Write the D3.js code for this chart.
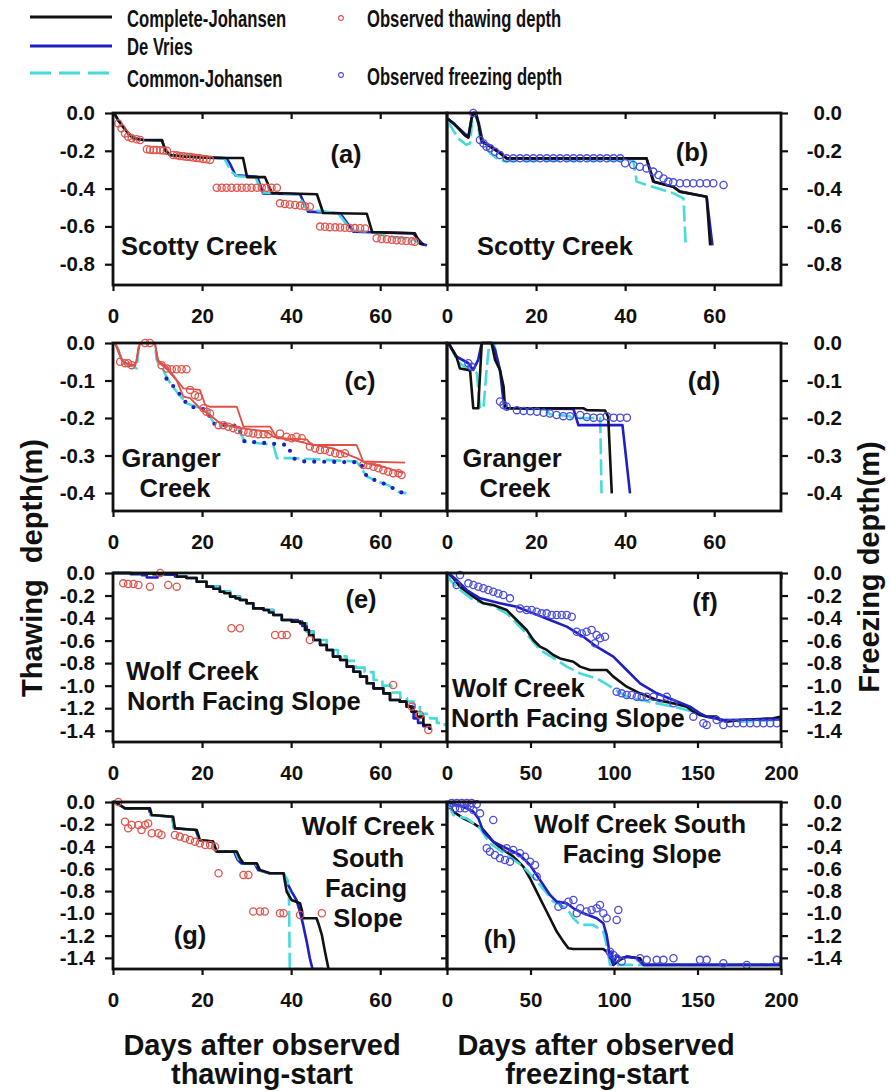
<!DOCTYPE html>
<html>
<head>
<meta charset="utf-8">
<script src="https://cdn.jsdelivr.net/npm/d3@7"></script>
<style>
  body { margin: 0; background: #fff; }
  svg { display: block; }
  text { font-family: "Liberation Sans", Arial, sans-serif; font-weight: bold; fill: #111; }
</style>
</head>
<body>
<svg id="chart" width="890" height="1092"></svg>
<script>
// ---------------- tick values and labels ----------------
const daysTicks75 = [0, 20, 40, 60];
const daysTicks200 = [0, 50, 100, 150, 200];
const depthTicks09 = [0, -0.2, -0.4, -0.6, -0.8];
const depthLabels09 = ["0.0", "-0.2", "-0.4", "-0.6", "-0.8"];
const depthTicks045 = [0, -0.1, -0.2, -0.3, -0.4];
const depthLabels045 = ["0.0", "-0.1", "-0.2", "-0.3", "-0.4"];
const depthTicks15 = [0, -0.2, -0.4, -0.6, -0.8, -1.0, -1.2, -1.4];
const depthLabels15 = ["0.0", "-0.2", "-0.4", "-0.6", "-0.8", "-1.0", "-1.2", "-1.4"];

const modelNames = ["Complete-Johansen", "De Vries", "Common-Johansen"];
const obsNames = ["Observed thawing depth", "Observed freezing depth"];

// ---------------- series: [day, depth (m)] ----------------
// (a) Scotty Creek, thawing
const aComplete = [[0,0],[0.5,-0.01],[1.2,-0.04],[2.5,-0.08],[3.5,-0.11],[4.6,-0.134],[6.8,-0.143],[11.0,-0.145],[11.8,-0.2],[12.8,-0.222],[16,-0.23],[20,-0.235],[25.8,-0.238],[29.2,-0.238],[30.1,-0.339],[34.1,-0.339],[35.7,-0.423],[45.8,-0.43],[47.2,-0.529],[57.0,-0.533],[58.2,-0.63],[67.8,-0.636],[68.9,-0.69],[69.8,-0.695]];
const aDeVries = [[0,0],[0.5,-0.01],[1.2,-0.04],[2.5,-0.08],[3.5,-0.11],[4.6,-0.134],[6.8,-0.143],[11.0,-0.143],[11.6,-0.19],[12.8,-0.222],[16,-0.23],[20,-0.235],[25.5,-0.24],[26.3,-0.27],[27.5,-0.33],[32.4,-0.337],[33.7,-0.425],[42,-0.43],[43.8,-0.522],[51,-0.53],[54,-0.628],[67.4,-0.637],[69.6,-0.695],[70.5,-0.7]];
const aCommon = [[0,0],[1.2,-0.04],[2.5,-0.08],[4.6,-0.134],[6.8,-0.143],[10.8,-0.145],[12.5,-0.215],[20,-0.235],[25,-0.24],[26.5,-0.31],[28,-0.335],[32,-0.34],[33.5,-0.42],[41.5,-0.43],[43.5,-0.51],[50.5,-0.53],[53.5,-0.62],[58,-0.63],[62,-0.655],[67,-0.665],[69.6,-0.7]];
const aObserved = [[1.2,-0.055],[1.9,-0.081],[2.7,-0.108],[3.4,-0.125],[4.2,-0.134],[5.3,-0.139],[6.1,-0.143],[7.6,-0.192],[8.3,-0.194],[9.1,-0.196],[9.8,-0.196],[10.6,-0.197],[11.3,-0.198],[12.1,-0.2],[13.5,-0.222],[14.3,-0.224],[15.0,-0.227],[15.8,-0.229],[16.5,-0.231],[17.3,-0.233],[18.0,-0.236],[18.8,-0.238],[19.5,-0.24],[20.3,-0.243],[21.0,-0.245],[21.8,-0.248],[23.3,-0.395],[24.4,-0.395],[25.5,-0.395],[26.6,-0.395],[27.8,-0.395],[28.9,-0.395],[30.0,-0.395],[31.1,-0.395],[32.3,-0.395],[33.4,-0.395],[34.5,-0.395],[35.6,-0.395],[36.8,-0.395],[37.5,-0.478],[38.6,-0.481],[39.7,-0.484],[40.9,-0.487],[42.0,-0.49],[43.1,-0.493],[44.2,-0.496],[46.5,-0.601],[47.6,-0.602],[48.7,-0.604],[49.9,-0.605],[51.0,-0.606],[52.1,-0.607],[53.2,-0.608],[54.3,-0.609],[55.5,-0.61],[56.6,-0.611],[59.2,-0.663],[60.3,-0.666],[61.5,-0.668],[62.6,-0.671],[63.7,-0.673],[64.8,-0.675],[65.9,-0.677],[67.1,-0.679],[67.8,-0.681]];

// (b) Scotty Creek, freezing
const bComplete = [[0.2,-0.03],[1.8,-0.064],[2.9,-0.09],[4.0,-0.118],[4.8,-0.13],[5.5,-0.03],[5.9,0],[6.3,0],[7.0,-0.05],[7.8,-0.152],[9.7,-0.178],[11.9,-0.213],[13.4,-0.24],[41.8,-0.24],[44.8,-0.24],[46.3,-0.363],[50.8,-0.39],[52.3,-0.416],[58.3,-0.443],[59.1,-0.7]];
const bDeVries = [[0.2,-0.03],[1.8,-0.06],[2.9,-0.085],[4.0,-0.11],[4.8,-0.125],[5.5,-0.03],[5.9,0],[6.5,0],[7.2,-0.06],[8.0,-0.15],[9.7,-0.175],[11.9,-0.21],[13.4,-0.24],[44.8,-0.24],[46.5,-0.365],[50.8,-0.39],[52.3,-0.416],[58.3,-0.443],[59.6,-0.7]];
const bCommon = [[0.2,-0.04],[0.7,-0.064],[2.5,-0.134],[4.4,-0.169],[5.2,-0.16],[5.7,-0.03],[6.0,0],[6.6,0],[7.4,-0.134],[9.7,-0.213],[11.2,-0.24],[12.7,-0.254],[41.8,-0.249],[42.6,-0.363],[44.8,-0.38],[50.8,-0.425],[53.1,-0.452],[53.6,-0.7]];
const bObserved = [[5.9,0],[7.4,-0.143],[8.2,-0.161],[8.9,-0.178],[9.7,-0.187],[10.8,-0.205],[11.9,-0.222],[13.4,-0.24],[14.9,-0.24],[16.4,-0.24],[17.9,-0.24],[19.4,-0.24],[20.9,-0.24],[22.4,-0.24],[23.9,-0.24],[25.4,-0.24],[26.9,-0.24],[28.4,-0.24],[29.9,-0.24],[31.4,-0.24],[32.9,-0.24],[34.4,-0.24],[35.9,-0.24],[37.4,-0.24],[38.9,-0.24],[40.0,-0.266],[41.8,-0.275],[43.3,-0.284],[44.8,-0.293],[46.3,-0.31],[47.5,-0.328],[48.6,-0.346],[49.7,-0.363],[50.8,-0.367],[52.3,-0.372],[53.8,-0.372],[55.3,-0.372],[56.8,-0.372],[58.3,-0.372],[59.8,-0.372],[62.1,-0.381]];

// (c) Granger Creek, thawing
const cRedUpper = [[0.45,0],[1.2,-0.018],[1.9,-0.045],[3.1,-0.054],[4.6,-0.059],[5.3,-0.05],[5.7,-0.013],[6.1,0],[9.4,0],[10.0,-0.045],[10.9,-0.054],[12.1,-0.063],[13.2,-0.081],[14.3,-0.099],[15.8,-0.121],[19.5,-0.125],[20.7,-0.165],[21.8,-0.17],[27.8,-0.17],[29.3,-0.223],[35.3,-0.223],[36.8,-0.254],[43.5,-0.257],[44.6,-0.272],[54.7,-0.272],[56.2,-0.316],[65.6,-0.319]];
const cRedLower = [[0.45,0],[1.4,-0.03],[2.3,-0.05],[4.0,-0.06],[5.0,-0.06],[5.7,-0.02],[6.1,0],[9.4,0],[10.2,-0.05],[12.1,-0.07],[14.3,-0.1],[15.8,-0.143],[17.3,-0.147],[19.5,-0.174],[21.8,-0.192],[24.0,-0.214],[28.5,-0.227],[34.5,-0.236],[36.0,-0.25],[40.5,-0.259],[43.5,-0.268],[49.4,-0.281],[54.7,-0.307],[57.0,-0.321],[60.7,-0.33],[65.2,-0.347]];
const cCommon = [[0.45,0],[1.2,-0.018],[2.3,-0.054],[4.6,-0.063],[5.3,-0.068],[5.7,-0.018],[6.1,0],[9.4,0],[9.8,-0.045],[10.9,-0.063],[12.4,-0.099],[14.3,-0.13],[16.5,-0.161],[18.8,-0.17],[21.0,-0.179],[22.9,-0.219],[27.8,-0.223],[29.6,-0.263],[36.0,-0.272],[36.8,-0.307],[40.5,-0.307],[54.7,-0.316],[57.0,-0.356],[59.6,-0.37],[61.8,-0.379],[64.1,-0.397],[65.9,-0.401]];
const cDeVries = [[12.0,-0.095],[14.3,-0.125],[16.5,-0.161],[17.5,-0.17],[21.0,-0.178],[22.5,-0.215],[28.0,-0.221],[29.5,-0.262],[39.3,-0.272],[40.3,-0.307],[43.0,-0.316],[55.5,-0.318],[57.0,-0.356],[59.6,-0.37],[61.8,-0.379],[64.1,-0.397],[65.9,-0.401]];
const cObserved = [[1.6,-0.05],[2.7,-0.054],[3.4,-0.054],[4.2,-0.059],[7.2,0],[8.3,0],[10.9,-0.059],[12.1,-0.068],[13.2,-0.07],[14.3,-0.07],[15.4,-0.07],[16.5,-0.07],[17.3,-0.125],[18.4,-0.139],[19.2,-0.143],[20.3,-0.174],[21.0,-0.183],[21.8,-0.188],[23.7,-0.219],[24.8,-0.219],[25.9,-0.223],[27.0,-0.227],[28.1,-0.232],[29.3,-0.236],[30.4,-0.239],[31.5,-0.241],[32.6,-0.243],[33.8,-0.243],[34.9,-0.243],[37.5,-0.241],[39.0,-0.25],[40.1,-0.254],[41.2,-0.25],[42.4,-0.254],[44.2,-0.276],[45.4,-0.281],[46.5,-0.285],[47.6,-0.285],[48.7,-0.29],[49.9,-0.294],[51.0,-0.296],[52.1,-0.294],[56.2,-0.325],[57.3,-0.325],[58.5,-0.33],[59.6,-0.334],[60.7,-0.339],[61.8,-0.343],[62.9,-0.347],[64.1,-0.347],[64.8,-0.352]];

// (d) Granger Creek, freezing
const dComplete = [[0.3,0],[2.1,-0.036],[2.9,-0.068],[4.8,-0.072],[5.2,-0.075],[5.9,-0.174],[7.0,-0.174],[7.8,0],[10.0,0],[10.8,-0.045],[11.9,-0.072],[12.7,-0.116],[13.0,-0.17],[13.4,-0.174],[30.6,-0.174],[31.4,-0.179],[35.5,-0.18],[36.2,-0.197],[37.0,-0.401]];
const dDeVries = [[0.3,0],[2.1,-0.036],[4.8,-0.054],[5.9,-0.072],[7.0,-0.045],[7.8,0],[10.0,0],[10.8,-0.018],[11.9,-0.072],[12.7,-0.156],[13.4,-0.174],[28.4,-0.176],[29.5,-0.219],[39.4,-0.219],[41.1,-0.401]];
const dCommon = [[0.3,0],[2.5,-0.05],[4.4,-0.068],[5.5,-0.07],[6.7,-0.08],[7.4,-0.174],[8.2,-0.174],[8.9,-0.07],[9.5,0],[10.5,0],[11.2,-0.036],[12.3,-0.1],[12.7,-0.143],[13.4,-0.174],[22.4,-0.178],[23.1,-0.19],[27.6,-0.195],[28.0,-0.2],[34.4,-0.2],[34.7,-0.401]];
const dObserved = [[4.8,-0.054],[5.5,-0.063],[11.9,-0.156],[12.7,-0.165],[13.4,-0.17],[15.7,-0.179],[17.2,-0.181],[18.7,-0.182],[20.2,-0.183],[21.7,-0.186],[23.1,-0.188],[24.6,-0.192],[26.1,-0.195],[27.6,-0.195],[29.9,-0.192],[31.4,-0.197],[32.9,-0.199],[34.4,-0.199],[35.9,-0.195],[37.4,-0.199],[38.9,-0.199],[40.4,-0.199]];

// (e) Wolf Creek North Facing Slope, thawing
const eComplete = [[0,0],[4,-0.005],[9,-0.01],[12,-0.005],[14.3,-0.033],[16.5,-0.045],[18.8,-0.077],[21,-0.121],[22.5,-0.14],[24,-0.166],[25,-0.18],[26.3,-0.21],[27.5,-0.225],[28.5,-0.24],[30,-0.269],[31.5,-0.314],[33.8,-0.328],[35,-0.35],[36,-0.373],[37.9,-0.417],[40.1,-0.432],[42,-0.447],[43.1,-0.506],[44,-0.55],[45,-0.595],[46.5,-0.639],[48,-0.683],[49.4,-0.742],[51,-0.772],[52.5,-0.831],[54,-0.876],[55.5,-0.92],[57,-0.979],[58.5,-1.024],[60.7,-1.068],[62.2,-1.127],[64.4,-1.142],[65.9,-1.186],[67,-1.23],[68.2,-1.275],[69.7,-1.349],[71.2,-1.393]];
const eDeVries = [[0,0],[4,-0.01],[6.5,-0.02],[7.6,-0.04],[9.1,-0.04],[10,-0.01],[12,-0.015],[13.9,-0.03],[16.5,-0.045],[18.8,-0.077],[21,-0.121],[24,-0.166],[26.3,-0.21],[28.5,-0.24],[30,-0.269],[31.5,-0.314],[33.8,-0.328],[36,-0.373],[37.9,-0.417],[41.5,-0.432],[42.5,-0.47],[43.5,-0.52],[45,-0.595],[46.5,-0.639],[48,-0.683],[49.4,-0.742],[51,-0.772],[52.5,-0.831],[54,-0.876],[55.5,-0.92],[57,-0.979],[58.5,-1.024],[60.7,-1.068],[62.2,-1.127],[64.4,-1.142],[65.9,-1.186],[67.5,-1.29],[68.5,-1.33],[69.7,-1.36],[71,-1.39]];
const eCommon = [[0,0],[4,-0.005],[9,-0.01],[12,-0.005],[14.3,-0.033],[16.5,-0.045],[18.8,-0.077],[21,-0.121],[24,-0.166],[26.3,-0.21],[28.5,-0.24],[30,-0.269],[31.5,-0.314],[33.8,-0.328],[36,-0.373],[37.9,-0.417],[40.1,-0.432],[42,-0.447],[43.5,-0.52],[45,-0.595],[48,-0.683],[50.5,-0.74],[52.5,-0.78],[54.5,-0.84],[56.5,-0.88],[58.5,-0.95],[60.5,-1.0],[62.5,-1.06],[64.5,-1.11],[66,-1.14],[67.5,-1.17],[68.9,-1.25],[70,-1.25],[71.2,-1.29],[72.7,-1.33],[74.5,-1.36]];
const eObserved = [[2.3,-0.092],[3.4,-0.098],[4.6,-0.098],[5.7,-0.107],[8.3,-0.121],[10.6,0],[12.4,-0.107],[14.3,-0.121],[26.6,-0.491],[28.5,-0.491],[36.4,-0.55],[37.9,-0.55],[39.0,-0.55],[44.2,-0.595],[62.9,-0.994],[67.1,-1.186],[68.9,-1.26],[70.8,-1.393]];

// (f) Wolf Creek North Facing Slope, freezing
const fComplete = [[0.8,0],[3.8,-0.047],[7.8,-0.121],[11.8,-0.166],[15.8,-0.21],[21.8,-0.269],[27.7,-0.284],[35.7,-0.328],[41.7,-0.417],[47.7,-0.506],[51.7,-0.595],[55.7,-0.654],[59.7,-0.683],[63.7,-0.728],[67.7,-0.758],[75.7,-0.787],[79.7,-0.831],[85.6,-0.861],[95.6,-0.861],[99.6,-0.92],[107.6,-1.009],[115.6,-1.068],[125.6,-1.127],[135.6,-1.157],[143.5,-1.186],[147.5,-1.231],[151.5,-1.26],[155.5,-1.275],[161.5,-1.275],[163.5,-1.305],[167.5,-1.32],[175.5,-1.305],[195.5,-1.29],[199.5,-1.275]];
const fDeVries = [[0.8,0],[5.8,-0.062],[11.8,-0.151],[19.8,-0.225],[31.7,-0.269],[41.7,-0.299],[51.7,-0.358],[61.7,-0.417],[71.7,-0.476],[81.7,-0.566],[89.6,-0.654],[99.6,-0.742],[107.6,-0.861],[115.6,-0.979],[125.6,-1.068],[135.6,-1.127],[145.5,-1.186],[151.5,-1.246],[155.5,-1.275],[165.5,-1.305],[199.5,-1.299]];
const fCommon = [[0.8,0],[1.8,-0.062],[7.8,-0.151],[15.8,-0.24],[25.7,-0.284],[35.7,-0.358],[45.7,-0.506],[55.7,-0.683],[65.7,-0.772],[71.7,-0.831],[79.7,-0.891],[89.6,-0.935],[99.6,-1.024],[107.6,-1.098],[115.6,-1.127],[125.6,-1.157],[135.6,-1.186],[147.5,-1.231],[155.5,-1.275],[165.5,-1.305],[175.5,-1.32],[199.5,-1.305]];
const fObserved = [[7.8,-0.018],[5.8,-0.107],[12.8,-0.092],[15.8,-0.107],[18.8,-0.121],[21.8,-0.136],[24.8,-0.151],[27.7,-0.166],[30.7,-0.181],[33.7,-0.195],[37.7,-0.225],[43.7,-0.314],[47.7,-0.328],[50.7,-0.328],[53.7,-0.343],[56.7,-0.358],[59.7,-0.358],[62.7,-0.373],[65.7,-0.373],[68.7,-0.373],[71.7,-0.373],[74.7,-0.388],[77.7,-0.521],[80.7,-0.536],[83.6,-0.521],[86.6,-0.506],[88.6,-0.624],[89.6,-0.55],[91.6,-0.58],[94.6,-0.566],[101.6,-1.053],[104.6,-1.068],[107.6,-1.083],[110.6,-1.083],[113.6,-1.098],[116.6,-1.098],[119.6,-1.098],[123.6,-1.098],[127.6,-1.112],[131.6,-1.098],[135.6,-1.157],[147.5,-1.275],[153.5,-1.334],[155.5,-1.349],[161.5,-1.305],[165.5,-1.349],[169.5,-1.334],[173.5,-1.334],[177.5,-1.334],[181.5,-1.334],[185.5,-1.334],[189.5,-1.334],[193.5,-1.334],[197.5,-1.334]];

// (g) Wolf Creek South Facing Slope, thawing
const gComplete = [[0,0],[0.45,0],[2.7,-0.057],[8.3,-0.057],[8.7,-0.117],[13.5,-0.132],[13.9,-0.236],[18.8,-0.251],[19.5,-0.341],[22.5,-0.356],[23.3,-0.446],[27.8,-0.446],[28.5,-0.506],[29.3,-0.551],[32.3,-0.551],[33.0,-0.611],[35.3,-0.64],[38.3,-0.64],[38.6,-0.715],[39.0,-0.805],[40.1,-0.88],[42.0,-0.91],[42.4,-0.969],[42.7,-1.044],[45.7,-1.044],[46.1,-1.089],[46.9,-1.194],[47.6,-1.344],[48.4,-1.5]];
const gDeVries = [[0,0],[0.45,0],[2.7,-0.057],[8.0,-0.057],[8.5,-0.117],[13.3,-0.132],[13.7,-0.236],[18.6,-0.251],[19.3,-0.341],[22.3,-0.356],[23.1,-0.446],[27.2,-0.446],[28.0,-0.52],[28.8,-0.551],[31.8,-0.551],[32.6,-0.611],[35.0,-0.64],[38.3,-0.64],[39.0,-0.72],[40.1,-0.805],[41.2,-0.88],[42.0,-0.99],[42.7,-1.104],[43.5,-1.254],[44.2,-1.403],[44.8,-1.5],[47.2,-1.5]];
const gCommon = [[0,0],[0.45,0],[2.7,-0.057],[8.0,-0.057],[8.5,-0.117],[13.3,-0.132],[13.7,-0.236],[18.6,-0.251],[19.3,-0.341],[22.3,-0.356],[23.1,-0.446],[27.5,-0.446],[28.3,-0.52],[29.0,-0.551],[32.0,-0.551],[32.8,-0.611],[35.1,-0.64],[38.3,-0.64],[39.2,-0.7],[39.5,-0.8],[39.7,-1.5],[42.0,-1.5]];
const gObserved = [[1.2,0],[2.7,-0.177],[3.4,-0.236],[4.2,-0.207],[5.7,-0.207],[6.4,-0.251],[7.2,-0.207],[7.9,-0.192],[8.7,-0.281],[10.2,-0.281],[10.9,-0.296],[13.9,-0.296],[15.0,-0.311],[16.2,-0.326],[17.3,-0.341],[18.4,-0.356],[19.5,-0.371],[20.7,-0.386],[21.8,-0.386],[22.9,-0.401],[23.7,-0.64],[29.3,-0.655],[30.4,-0.655],[31.5,-0.984],[33.0,-0.984],[34.1,-0.984],[37.5,-0.999],[38.3,-0.999],[42.0,-1.014],[46.9,-0.999]];

// (h) Wolf Creek South Facing Slope, freezing
const hComplete = [[0.4,0],[3.8,-0.087],[9.8,-0.147],[15.8,-0.192],[21.8,-0.251],[27.7,-0.356],[33.7,-0.431],[39.7,-0.491],[45.7,-0.581],[49.7,-0.685],[53.7,-0.805],[57.7,-0.925],[61.7,-1.044],[65.7,-1.164],[69.7,-1.254],[72.7,-1.314],[75.7,-1.32],[93.6,-1.32],[95.6,-1.344],[97.6,-1.403],[99.6,-1.463],[103.6,-1.418],[107.6,-1.389],[115.6,-1.403],[117.6,-1.463],[199.5,-1.463]];
const hDeVries = [[0.4,0],[5.8,-0.027],[11.8,-0.057],[15.8,-0.087],[18.8,-0.147],[21.8,-0.266],[27.7,-0.356],[35.7,-0.416],[43.7,-0.476],[49.7,-0.566],[53.7,-0.655],[57.7,-0.745],[61.7,-0.835],[65.7,-0.895],[71.7,-0.91],[75.7,-0.955],[81.7,-0.999],[89.6,-1.044],[93.6,-1.089],[95.6,-1.194],[96.6,-1.284],[97.6,-1.403],[98.6,-1.344],[99.6,-1.463],[101.6,-1.374],[103.6,-1.403],[107.6,-1.389],[113.6,-1.403],[117.6,-1.463],[199.5,-1.463]];
const hCommon = [[0.4,0],[3.8,-0.117],[11.8,-0.147],[19.8,-0.236],[25.7,-0.371],[35.7,-0.476],[45.7,-0.581],[55.7,-0.745],[63.7,-0.895],[71.7,-0.955],[75.7,-1.044],[79.7,-1.104],[87.6,-1.104],[93.6,-1.164],[95.6,-1.284],[97.6,-1.463],[199.5,-1.463]];
const hObserved = [[1.8,-0.027],[2.8,-0.01],[4.8,-0.057],[5.8,-0.01],[7.8,-0.057],[8.8,-0.01],[10.8,-0.057],[11.8,-0.01],[13.8,-0.042],[14.8,-0.01],[15.8,-0.072],[17.8,-0.02],[19.8,-0.102],[27.7,-0.162],[23.8,-0.416],[25.7,-0.446],[28.7,-0.476],[31.7,-0.506],[34.7,-0.521],[37.7,-0.536],[35.7,-0.416],[39.7,-0.431],[43.7,-0.461],[46.7,-0.491],[49.7,-0.536],[52.7,-0.566],[53.7,-0.67],[66.7,-0.94],[69.7,-0.925],[72.7,-0.895],[75.7,-0.88],[77.7,-0.999],[79.7,-0.955],[83.6,-0.984],[86.6,-0.969],[89.6,-0.955],[91.6,-0.925],[93.6,-0.999],[95.6,-1.044],[102.6,-0.969],[101.6,-1.059],[97.6,-1.344],[99.6,-1.374],[101.6,-1.403],[104.6,-1.433],[115.6,-1.403],[119.6,-1.418],[125.6,-1.418],[129.6,-1.418],[135.6,-1.403],[151.5,-1.418],[155.5,-1.418],[165.5,-1.448],[179.5,-1.463],[197.5,-1.418]];

// ---------------- styling ----------------
const BLACK = "#111111", BLUE = "#1f1fc4", CYAN = "#46dada", RED = "#e24f46", OBS_RED = "#e0554d", OBS_BLUE = "#4b4be0";
const lineStyles = {
  complete: { stroke: BLACK, width: 2.6 },
  devries:  { stroke: BLUE, width: 2.6 },
  common:   { stroke: CYAN, width: 2.6, dash: "16,5" },
  red:      { stroke: RED, width: 1.8 },
  blueDots: { stroke: BLUE, width: 4.2, dash: "0,10", cap: "round" }
};

const cols = [[113, 447], [447, 781]];
const rows = [[113, 285], [343, 511], [573, 742], [802, 969]];
const rowDomains = [[-0.91, 0], [-0.448, 0], [-1.5, 0], [-1.5, 0]];
const rowTicks = [[depthTicks09, depthLabels09], [depthTicks045, depthLabels045], [depthTicks15, depthLabels15], [depthTicks15, depthLabels15]];

const panels = [
  { col: 0, row: 0, xDomain: [0, 75], xTicks: daysTicks75,
    lines: [[aDeVries, "devries"], [aCommon, "common"], [aComplete, "complete"]],
    obs: [aObserved, OBS_RED],
    notes: [["(a)", 346, 163, "middle"], ["Scotty Creek", 121, 255, "start"]] },
  { col: 1, row: 0, xDomain: [0, 75], xTicks: daysTicks75,
    lines: [[bCommon, "common"], [bDeVries, "devries"], [bComplete, "complete"]],
    obs: [bObserved, OBS_BLUE],
    notes: [["(b)", 692, 161, "middle"], ["Scotty Creek", 477, 255, "start"]] },
  { col: 0, row: 1, xDomain: [0, 75], xTicks: daysTicks75,
    lines: [[cCommon, "common"], [cDeVries, "blueDots"], [cRedLower, "red"], [cRedUpper, "red"]],
    obs: [cObserved, OBS_RED],
    notes: [["(c)", 360, 390, "middle"], ["Granger", 171, 467, "middle"], ["Creek", 175, 497, "middle"]] },
  { col: 1, row: 1, xDomain: [0, 75], xTicks: daysTicks75,
    lines: [[dCommon, "common"], [dDeVries, "devries"], [dComplete, "complete"]],
    obs: [dObserved, OBS_BLUE],
    notes: [["(d)", 704, 390, "middle"], ["Granger", 512, 467, "middle"], ["Creek", 515, 497, "middle"]] },
  { col: 0, row: 2, xDomain: [0, 75], xTicks: daysTicks75, step: true,
    lines: [[eDeVries, "devries"], [eCommon, "common"], [eComplete, "complete"]],
    obs: [eObserved, OBS_RED],
    notes: [["(e)", 361, 608, "middle"], ["Wolf Creek", 126, 680, "start"], ["North Facing Slope", 127, 710, "start"]] },
  { col: 1, row: 2, xDomain: [0, 200], xTicks: daysTicks200,
    lines: [[fCommon, "common"], [fComplete, "complete"], [fDeVries, "devries"]],
    obs: [fObserved, OBS_BLUE],
    notes: [["(f)", 705, 611, "middle"], ["Wolf Creek", 452, 697, "start"], ["North Facing Slope", 451, 727, "start"]] },
  { col: 0, row: 3, xDomain: [0, 75], xTicks: daysTicks75,
    lines: [[gDeVries, "devries"], [gCommon, "common"], [gComplete, "complete"]],
    obs: [gObserved, OBS_RED],
    notes: [["Wolf Creek", 368, 835, "middle"], ["South", 368, 867, "middle"], ["Facing", 366, 897, "middle"], ["Slope", 368, 927, "middle"], ["(g)", 190, 944, "middle"]] },
  { col: 1, row: 3, xDomain: [0, 200], xTicks: daysTicks200,
    lines: [[hComplete, "complete"], [hCommon, "common"], [hDeVries, "devries"]],
    obs: [hObserved, OBS_BLUE],
    notes: [["Wolf Creek South", 640, 833, "middle"], ["Facing Slope", 642, 863, "middle"], ["(h)", 500, 948, "middle"]] }
];

const svg = d3.select("#chart");
const defs = svg.append("defs");
const FONT = '"Liberation Sans", Arial, sans-serif';
const TICK_FONT = 20.5;

function styleAxis(g, size) {
  g.attr("font-family", FONT).attr("font-size", size).attr("font-weight", "bold");
  g.select(".domain").remove();
  g.selectAll(".tick line").attr("stroke", BLACK).attr("stroke-width", 2.2);
  g.selectAll(".tick text").attr("fill", BLACK);
}

panels.forEach((p, i) => {
  const [x0, x1] = cols[p.col];
  const [y0, y1] = rows[p.row];
  const x = d3.scaleLinear().domain(p.xDomain).range([x0, x1]);
  const y = d3.scaleLinear().domain(rowDomains[p.row]).range([y1, y0]);
  const [yTicks, yLabels] = rowTicks[p.row];
  const g = svg.append("g");

  defs.append("clipPath").attr("id", "clip" + i)
    .append("rect").attr("x", x0).attr("y", y0 - 2).attr("width", x1 - x0).attr("height", y1 - y0 + 2);

  const plot = g.append("g").attr("clip-path", `url(#clip${i})`);
  p.lines.forEach(([data, key]) => {
    const s = lineStyles[key];
    const line = d3.line().x(d => x(d[0])).y(d => y(d[1]))
      .curve(p.step ? d3.curveStepAfter : d3.curveLinear);
    plot.append("path").datum(data).attr("d", line)
      .attr("fill", "none").attr("stroke", s.stroke).attr("stroke-width", s.width)
      .attr("stroke-dasharray", s.dash || null)
      .attr("stroke-linecap", s.cap || "butt").attr("stroke-linejoin", "round");
  });

  const [obsData, obsColor] = p.obs;
  g.append("g").selectAll("circle").data(obsData).join("circle")
    .attr("cx", d => x(d[0])).attr("cy", d => y(d[1])).attr("r", 3.6)
    .attr("fill", "none").attr("stroke", obsColor).attr("stroke-width", 1.3);

  // frame
  g.append("rect").attr("x", x0).attr("y", y0).attr("width", x1 - x0).attr("height", y1 - y0)
    .attr("fill", "none").attr("stroke", BLACK).attr("stroke-width", 2.8);

  // bottom axis with labels
  const bottom = g.append("g").attr("transform", `translate(0,${y1})`)
    .call(d3.axisBottom(x).tickValues(p.xTicks).tickSize(6).tickFormat(d3.format("d")));
  styleAxis(bottom, TICK_FONT);
  bottom.selectAll(".tick text").attr("y", 38).attr("dy", null);

  // top axis: inward ticks only
  const top = g.append("g").attr("transform", `translate(0,${y0})`)
    .call(d3.axisTop(x).tickValues(p.xTicks.filter(v => v > 0)).tickSize(-6).tickFormat(""));
  styleAxis(top, TICK_FONT);

  if (p.col === 0) {
    const left = g.append("g").attr("transform", `translate(${x0},0)`)
      .call(d3.axisLeft(y).tickValues(yTicks).tickSize(8).tickPadding(10).tickFormat((d, k) => yLabels[k]));
    styleAxis(left, TICK_FONT);
    const inner = g.append("g").attr("transform", `translate(${x1},0)`)
      .call(d3.axisRight(y).tickValues(yTicks.filter(v => v < 0)).tickSize(-6).tickFormat(""));
    styleAxis(inner, TICK_FONT);
  } else {
    const right = g.append("g").attr("transform", `translate(${x1},0)`)
      .call(d3.axisRight(y).tickValues(yTicks).tickSize(7).tickFormat((d, k) => yLabels[k]));
    styleAxis(right, TICK_FONT);
    right.selectAll(".tick text").attr("x", 61).attr("text-anchor", "end");
  }

  p.notes.forEach(([t, tx, ty, anchor]) => {
    g.append("text").attr("x", tx).attr("y", ty).attr("text-anchor", anchor)
      .attr("font-size", 25.5).text(t);
  });
});

// ---------------- legend ----------------
const legend = svg.append("g");
const legendLineY = [17, 46, 73];
const legendTextY = [27, 55, 87];
["complete", "devries", "common"].forEach((key, i) => {
  const s = lineStyles[key];
  legend.append("line").attr("x1", 30).attr("x2", 112)
    .attr("y1", legendLineY[i]).attr("y2", legendLineY[i])
    .attr("stroke", s.stroke).attr("stroke-width", 3)
    .attr("stroke-dasharray", key === "common" ? "21,8" : null);
  legend.append("text").attr("transform", `translate(127,${legendTextY[i]}) scale(0.68,1)`)
    .attr("font-size", 24.5).text(modelNames[i]);
});
[[18, 27, OBS_RED], [75, 85, OBS_BLUE]].forEach(([my, ty, c], i) => {
  legend.append("circle").attr("cx", 341).attr("cy", my).attr("r", 2.4)
    .attr("fill", "none").attr("stroke", c).attr("stroke-width", 1.1);
  legend.append("text").attr("transform", `translate(367,${ty}) scale(0.68,1)`)
    .attr("font-size", 24.5).text(obsNames[i]);
});

// ---------------- axis titles ----------------
svg.append("text").attr("transform", "translate(42,568) rotate(-90)")
  .attr("text-anchor", "middle").attr("font-size", 29).style("white-space", "pre")
  .text("Thawing  depth(m)");
svg.append("text").attr("transform", "translate(879,567) rotate(-90)")
  .attr("text-anchor", "middle").attr("font-size", 29).text("Freezing depth(m)");
[["Days after observed", 262, 1055], ["thawing-start", 262, 1084],
 ["Days after observed", 596, 1055], ["freezing-start", 597, 1084]].forEach(([t, tx, ty]) => {
  svg.append("text").attr("x", tx).attr("y", ty).attr("text-anchor", "middle")
    .attr("font-size", 29).text(t);
});
</script>
</body>
</html>
